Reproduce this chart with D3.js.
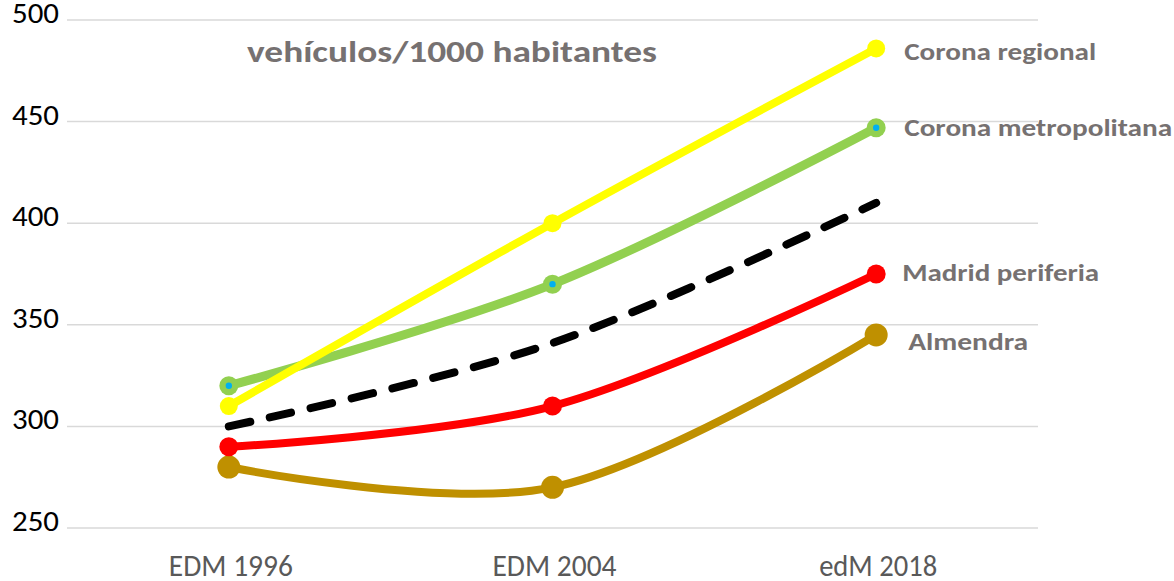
<!DOCTYPE html>
<html><head><meta charset="utf-8">
<script src="https://cdn.jsdelivr.net/npm/d3@7"></script>
<style>
html,body{margin:0;padding:0;background:#fff;}
svg{display:block;}
</style></head>
<body>
<svg id="chart" width="1174" height="581"></svg>
<script>
const categories = ["EDM 1996", "EDM 2004", "edM 2018"];
const yTicks = [250, 300, 350, 400, 450, 500];
const chartTitle = "vehículos/1000 habitantes";

const seriesNames = ["Almendra", "Madrid periferia", "Media", "Corona metropolitana", "Corona regional"];
const almendra = [280, 270, 345];
const madridPeriferia = [290, 310, 375];
const media = [300, 341, 410];
const coronaMetropolitana = [320, 370, 447];
const coronaRegional = [310, 400, 486];
const seriesColors = ["#BF9000", "#FF0000", "#000000", "#92D050", "#FFFF00"];

const seriesValues = [almendra, madridPeriferia, media, coronaMetropolitana, coronaRegional];

const svg = d3.select("#chart");
const x = d3.scalePoint().domain(categories).range([67, 1038]).padding(0.5);
const y = d3.scaleLinear().domain([250, 500]).range([528, 20]);

const tickFont = "Carlito, Lato, 'Open Sans', sans-serif";

// gridlines
svg.append("g").selectAll("line").data(yTicks).join("line")
  .attr("x1", 67).attr("x2", 1038)
  .attr("y1", d => y(d)).attr("y2", d => y(d))
  .attr("stroke", "#d9d9d9").attr("stroke-width", 1.5);

// y tick labels
svg.append("g").selectAll("text").data(yTicks).join("text")
  .attr("x", 59).attr("y", d => y(d) + 3)
  .attr("text-anchor", "end")
  .attr("font-family", tickFont).attr("font-size", 28.5)
  .attr("fill", "#000")
  .attr("textLength", 47).attr("lengthAdjust", "spacingAndGlyphs")
  .text(d => d);

// x labels
svg.append("g").selectAll("text").data(categories).join("text")
  .attr("x", d => x(d) + 2).attr("y", 576)
  .attr("text-anchor", "middle")
  .attr("font-family", "Carlito, Lato, sans-serif")
  .attr("font-size", 30)
  .attr("fill", "#595959")
  .attr("textLength", (d, i) => i === 2 ? 118 : 124).attr("lengthAdjust", "spacingAndGlyphs")
  .text(d => d);

// title
svg.append("text")
  .attr("x", 247).attr("y", 62)
  .attr("font-family", "Carlito, Lato, 'Open Sans', sans-serif")
  .attr("font-weight", "bold").attr("font-size", 30)
  .attr("fill", "#767171")
  .attr("textLength", 410).attr("lengthAdjust", "spacingAndGlyphs")
  .text(chartTitle);

const line = d3.line()
  .x((d, i) => x(categories[i]))
  .y(d => y(d))
  .curve(d3.curveCardinal.tension(0));

const widths = [8, 8, 8, 9, 8];
const radii = [11.5, 9.5, 0, 9.5, 9];

seriesValues.forEach((vals, si) => {
  const g = svg.append("g");
  const p = g.append("path")
    .attr("d", line(vals))
    .attr("fill", "none")
    .attr("stroke", seriesColors[si])
    .attr("stroke-width", widths[si])
    .attr("stroke-linecap", "round")
    .attr("stroke-linejoin", "round");
  if (seriesNames[si] === "Media") {
    p.attr("stroke-dasharray", "22,20");
  } else {
    g.selectAll("circle.m").data(vals).join("circle")
      .attr("class", "m")
      .attr("cx", (d, i) => x(categories[i]))
      .attr("cy", d => y(d))
      .attr("r", radii[si])
      .attr("fill", seriesColors[si]);
    if (seriesNames[si] === "Corona metropolitana") {
      g.selectAll("circle.c").data(vals).join("circle")
        .attr("class", "c")
        .attr("cx", (d, i) => x(categories[i]))
        .attr("cy", d => y(d))
        .attr("r", 3.2)
        .attr("fill", "#00B0F0");
    }
  }
});

// series labels at the end
const labelFont = "Carlito, Lato, 'Open Sans', sans-serif";
const labelSeries = [
  {name: "Corona regional", idx: 4, dx: 28, dy: 12, len: 192},
  {name: "Corona metropolitana", idx: 3, dx: 28, dy: 8, len: 268},
  {name: "Madrid periferia", idx: 1, dx: 26, dy: 7, len: 197},
  {name: "Almendra", idx: 0, dx: 32, dy: 15, len: 120}
];
labelSeries.forEach(l => {
  const v = seriesValues[l.idx][2];
  svg.append("text")
    .attr("x", x(categories[2]) + l.dx)
    .attr("y", y(v) + l.dy)
    .attr("font-family", labelFont)
    .attr("font-weight", "bold").attr("font-size", 24)
    .attr("fill", "#767171")
    .attr("textLength", l.len).attr("lengthAdjust", "spacingAndGlyphs")
    .text(l.name);
});
</script>
</body></html>
